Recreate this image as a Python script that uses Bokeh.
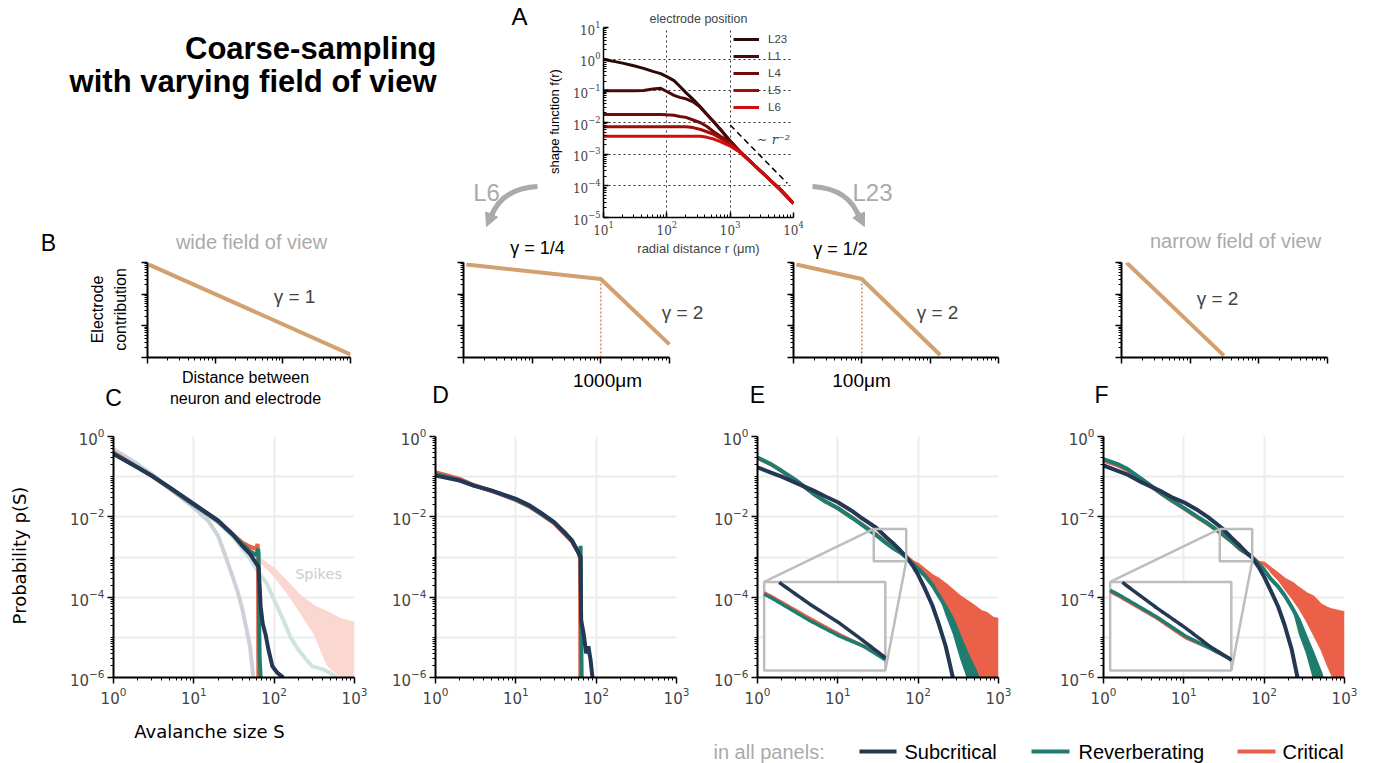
import numpy as np
from bokeh.plotting import figure
from bokeh.layouts import column, row
from bokeh.models import Range1d, FixedTicker, Label, Legend, LegendItem, Arrow, NormalHead
from bokeh.embed import file_html
from bokeh.resources import INLINE
from bokeh.core.properties import value

# ---------------- data: panel A (shape function) ----------------
A_r = [10, 13, 16, 20, 30, 43, 60, 80, 100, 130, 160, 200, 260, 340, 430, 550, 700, 1000, 1400, 2300, 3800, 6200, 10000]
A_L23 = [1.0, 0.89, 0.82, 0.75, 0.62, 0.51, 0.41, 0.35, 0.28, 0.21, 0.14, 0.088, 0.054, 0.031, 0.018, 0.0106, 0.0061, 0.0026, 0.00126, 4.9e-4, 1.9e-4, 7.6e-5, 2.8e-5]
A_L1 = [0.1, 0.1, 0.1, 0.1, 0.1, 0.103, 0.115, 0.12, 0.095, 0.072, 0.062, 0.056, 0.045, 0.03, 0.018, 0.0105, 0.006, 0.0026, 0.00126, 4.9e-4, 1.9e-4, 7.6e-5, 2.8e-5]
A_L4 = [0.018, 0.018, 0.018, 0.018, 0.018, 0.018, 0.018, 0.018, 0.0175, 0.017, 0.0155, 0.0145, 0.012, 0.0098, 0.0075, 0.0051, 0.0037, 0.0024, 0.00125, 4.9e-4, 1.9e-4, 7.6e-5, 2.8e-5]
A_L5 = [0.0074, 0.0074, 0.0074, 0.0074, 0.0074, 0.0074, 0.0074, 0.0074, 0.0074, 0.0074, 0.0074, 0.0074, 0.0069, 0.006, 0.0051, 0.0042, 0.0032, 0.0021, 0.00122, 4.85e-4, 1.9e-4, 7.6e-5, 2.8e-5]
A_L6 = [0.0037, 0.0037, 0.0037, 0.0037, 0.0037, 0.0037, 0.0037, 0.0037, 0.0037, 0.0037, 0.0037, 0.0037, 0.0037, 0.0037, 0.0034, 0.003, 0.0025, 0.0018, 0.00118, 4.8e-4, 1.9e-4, 7.6e-5, 2.8e-5]
A_layers = ["L23", "L1", "L4", "L5", "L6"]
A_guide_r = [1000, 8000]
A_guide_f = [8.3e-3, 1.2e-4]

# ---------------- data: panel B (electrode contribution sketches) ----------------
B1_x = [1.05, 1000]
B1_y = [0.86, 0.00125]
B2_x = [1.1, 100, 1000]
B2_y = [0.86, 0.3, 0.0026]
B3_x = [1.1, 10, 140]
B3_y = [0.86, 0.3, 0.0012]
B4_x = [1.18, 31]
B4_y = [1.0, 0.00115]

# ---------------- data: panel C ----------------
C_sub_S = [1, 2, 3, 5, 10, 20, 30, 40, 50, 60, 64, 66, 68, 72, 78, 85, 95, 110, 130]
C_sub_p = [0.365, 0.17, 0.106, 0.054, 0.021, 0.0081, 0.0038, 0.0019, 1.2e-3, 6.8e-4, 5.6e-4, 1.8e-4, 5.7e-5, 2.2e-5, 1.2e-5, 4.9e-6, 1.9e-6, 1.3e-6, 1e-6]
C_rev_S = [1, 2, 3, 5, 10, 20, 30, 40, 50, 60, 63, 64, 65, 66, 68]
C_rev_p = [0.38, 0.17, 0.105, 0.053, 0.02, 0.0078, 0.0037, 0.0021, 1.4e-3, 1.1e-3, 1.6e-3, 1.2e-3, 2.7e-5, 3e-6, 1e-6]
C_crit_S = [1, 2, 3, 5, 10, 20, 30, 40, 50, 60, 62, 63, 63.5]
C_crit_p = [0.4, 0.17, 0.104, 0.052, 0.02, 0.0078, 0.0038, 0.0023, 1.8e-3, 1.6e-3, 2.1e-3, 1.5e-3, 1e-6]
C_subspk_S = [1, 2, 3, 5, 10, 15, 20, 25, 30, 35, 40, 45, 50, 55]
C_subspk_p = [0.485, 0.206, 0.116, 0.05, 0.017, 8.1e-3, 3.4e-3, 1.0e-3, 3.5e-4, 1.4e-4, 5.2e-5, 1.7e-5, 5.9e-6, 1e-6]
C_revspk_S = [1, 2, 3, 5, 10, 20, 30, 40, 50, 60, 80, 100, 130, 160, 200, 250, 300, 400, 500, 600]
C_revspk_p = [0.42, 0.18, 0.105, 0.052, 0.019, 7.2e-3, 3.3e-3, 1.6e-3, 9e-4, 5.0e-4, 2.3e-4, 8.5e-5, 2.7e-5, 1.0e-5, 4.9e-6, 2.8e-6, 1.9e-6, 1.6e-6, 1.3e-6, 1e-6]
C_critspk_S = [1, 2, 3, 5, 10, 20, 30, 40, 50, 60, 67, 80, 100, 145, 210, 310, 450, 660, 1000]
C_critspk_p = [0.42, 0.18, 0.105, 0.052, 0.019, 7.5e-3, 3.5e-3, 2.0e-3, 1.5e-3, 1.2e-3, 8.3e-4, 6.5e-4, 4.7e-4, 2.2e-4, 1.0e-4, 5.7e-5, 4.0e-5, 2.7e-5, 2.2e-5]
C_critspk_lo = [0.42, 0.18, 0.105, 0.052, 0.019, 7.5e-3, 3.5e-3, 2.0e-3, 1.5e-3, 1.2e-3, 7e-4, 5e-4, 3.2e-4, 1.2e-4, 4e-5, 1.2e-5, 2e-6, 1e-6, 1e-6]

# ---------------- data: panel D ----------------
D_sub_S = [1, 2, 3, 5, 10, 15, 20, 30, 40, 50, 60, 64, 65, 70, 75, 80, 85, 90]
D_sub_p = [0.106, 0.08, 0.06, 0.045, 0.028, 0.019, 0.013, 7.4e-3, 4.2e-3, 2.6e-3, 1.3e-3, 1e-3, 2.7e-5, 1.2e-5, 4e-6, 6e-6, 2.8e-6, 1e-6]
D_rev_S = [1, 2, 3, 5, 10, 15, 20, 30, 40, 50, 60, 63, 64, 65, 66]
D_rev_p = [0.115, 0.082, 0.06, 0.045, 0.027, 0.018, 0.0125, 7.2e-3, 4.0e-3, 2.5e-3, 1.3e-3, 1.1e-3, 1.9e-3, 2e-5, 1e-6]
D_crit_S = [1, 2, 3, 5, 10, 15, 20, 30, 40, 50, 60, 63, 63.5]
D_crit_p = [0.13, 0.088, 0.062, 0.044, 0.026, 0.0175, 0.012, 6.9e-3, 3.8e-3, 2.4e-3, 1.3e-3, 9e-4, 1e-6]

# ---------------- data: panel E ----------------
E_sub_S = [1, 1.5, 2, 3, 5, 7, 10, 15, 20, 30, 40, 50, 60, 70, 85, 100, 120, 150, 180, 220, 250, 270]
E_sub_p = [0.17, 0.125, 0.1, 0.07, 0.045, 0.032, 0.023, 0.014, 0.0092, 0.0054, 3.1e-3, 2.1e-3, 1.45e-3, 1.05e-3, 6.2e-4, 3.6e-4, 1.7e-4, 6.3e-5, 2.2e-5, 6e-6, 2e-6, 1e-6]
E_rev_S = [1, 1.5, 2, 3, 5, 7, 10, 15, 20, 30, 40, 50, 60, 70, 85, 100, 120, 150, 180, 220, 270, 330, 400, 500, 550]
E_rev_p = [0.3, 0.2, 0.14, 0.082, 0.037, 0.024, 0.0166, 0.0095, 0.0063, 3.5e-3, 2.2e-3, 1.6e-3, 1.3e-3, 1.0e-3, 6.8e-4, 5.1e-4, 3.5e-4, 2.0e-4, 1.1e-4, 5.7e-5, 2.7e-5, 1.0e-5, 4e-6, 1.6e-6, 1e-6]
E_rev_lo = [0.3, 0.2, 0.14, 0.082, 0.037, 0.024, 0.0166, 0.0095, 0.0063, 3.5e-3, 2.2e-3, 1.6e-3, 1.3e-3, 1.0e-3, 6.8e-4, 5.1e-4, 3.5e-4, 2.0e-4, 1.1e-4, 3.5e-5, 1.2e-5, 3e-6, 1e-6, 1e-6, 1e-6]
E_crit_S = [1, 1.5, 2, 3, 5, 7, 10, 15, 20, 30, 40, 50, 60, 70, 85, 100, 120, 150, 180, 220, 270, 330, 400, 500, 600, 700, 850, 1000]
E_crit_p = [0.29, 0.2, 0.137, 0.08, 0.038, 0.024, 0.0162, 0.0096, 0.0065, 3.6e-3, 2.3e-3, 1.65e-3, 1.3e-3, 1.05e-3, 7.5e-4, 6.3e-4, 4.7e-4, 3.3e-4, 2.7e-4, 2.0e-4, 1.4e-4, 1.0e-4, 7.7e-5, 5.7e-5, 4.3e-5, 3.9e-5, 2.9e-5, 2.7e-5]
E_crit_lo = [0.29, 0.2, 0.137, 0.08, 0.038, 0.024, 0.0162, 0.0096, 0.0065, 3.6e-3, 2.3e-3, 1.65e-3, 1.3e-3, 1.05e-3, 7.5e-4, 5e-4, 3.3e-4, 2.0e-4, 1.2e-4, 6e-5, 2.5e-5, 1e-5, 2.5e-6, 1e-6, 1e-6, 1e-6, 1e-6, 1e-6]

# ---------------- data: panel F ----------------
F_sub_S = [1, 1.5, 2, 3, 5, 7, 10, 15, 20, 30, 40, 50, 60, 70, 85, 100, 120, 150, 180, 220, 260]
F_sub_p = [0.19, 0.14, 0.112, 0.072, 0.045, 0.031, 0.023, 0.0145, 0.0098, 0.0052, 2.9e-3, 1.9e-3, 1.3e-3, 1.0e-3, 5.7e-4, 3.2e-4, 1.5e-4, 5.7e-5, 2.0e-5, 5e-6, 1e-6]
F_rev_S = [1, 1.5, 2, 3, 5, 7, 10, 15, 20, 30, 40, 50, 60, 70, 85, 100, 120, 150, 180, 220, 270, 330, 400, 500, 520]
F_rev_p = [0.275, 0.206, 0.155, 0.087, 0.041, 0.026, 0.0167, 0.0098, 6.8e-3, 3.8e-3, 2.4e-3, 1.6e-3, 1.25e-3, 1.0e-3, 6.8e-4, 4.8e-4, 2.9e-4, 1.8e-4, 1.1e-4, 5.7e-5, 2.7e-5, 1.0e-5, 4e-6, 1.3e-6, 1e-6]
F_rev_lo = [0.275, 0.206, 0.155, 0.087, 0.041, 0.026, 0.0167, 0.0098, 6.8e-3, 3.8e-3, 2.4e-3, 1.6e-3, 1.25e-3, 1.0e-3, 6.8e-4, 4.8e-4, 2.9e-4, 1.8e-4, 1.1e-4, 5.7e-5, 1.2e-5, 4e-6, 1e-6, 1e-6, 1e-6]
F_crit_S = [1, 1.5, 2, 3, 5, 7, 10, 15, 20, 30, 40, 50, 60, 70, 85, 100, 120, 150, 180, 220, 270, 330, 400, 500, 600, 700, 850, 1000]
F_crit_p = [0.25, 0.19, 0.145, 0.084, 0.04, 0.0255, 0.0162, 0.0095, 6.6e-3, 3.7e-3, 2.35e-3, 1.55e-3, 1.25e-3, 1.0e-3, 7.2e-4, 6.8e-4, 5.1e-4, 3.6e-4, 2.7e-4, 2.2e-4, 1.6e-4, 1.2e-4, 1.0e-4, 6.3e-5, 5.2e-5, 4.7e-5, 4.3e-5, 4e-5]
F_crit_lo = [0.25, 0.19, 0.145, 0.084, 0.04, 0.0255, 0.0162, 0.0095, 6.6e-3, 3.7e-3, 2.35e-3, 1.55e-3, 1.25e-3, 1.0e-3, 7.2e-4, 6.8e-4, 4e-4, 2.5e-4, 1.5e-4, 9e-5, 5e-5, 2.5e-5, 1.2e-5, 5e-6, 2e-6, 1e-6, 1e-6, 1e-6]

LEGEND_NAMES = ["Subcritical", "Reverberating", "Critical"]

# ---------------- styling ----------------
SANS = "Liberation Sans"
MPL = "DejaVu Sans"
SERIF = "DejaVu Serif"
NAVY, TEAL, RED = "#243854", "#1e7d6e", "#ea6048"
NAVY_L, TEAL_L, RED_L = "#cdd1da", "#cfe3df", "#fad7d0"
TAN = "#d3a070"
TAN_DOT = "#e08a4c"
GRAYTXT = "#aaaaaa"
INSET_GRAY = "#bdbdbd"
A_COLORS = ["#2b0909", "#4a0808", "#720a0a", "#a00b0b", "#d10d0d"]

ZOOM_S = (28.0, 71.0)
ZOOM_P = (7.8e-4, 5.0e-3)
INSET_S = (1.21, 39.0)
INSET_P = (1.5e-6, 2.4e-4)


def dec(a, b):
    return [10.0 ** k for k in range(a, b + 1)]


def mnr(a, b):
    return [m * 10.0 ** k for k in range(a, b) for m in range(2, 10)]


def canvas(x0, y0, w, h):
    p = figure(width=w, height=h, x_range=Range1d(x0, x0 + w), y_range=Range1d(-(y0 + h), -y0),
               x_axis_location=None, y_axis_location=None, toolbar_location=None,
               output_backend="svg", min_border=0, frame_align=False)
    p.outline_line_color = None
    p.grid.visible = False
    return p


def ctext(p, x, y, t, size, color="black", font=SANS, align="center", style="normal",
          angle=0.0, baseline="middle"):
    p.text(x=[x], y=[-y], text=[t], text_font=value(font), text_font_size=f"{size}px",
           text_color=color, text_align=align, text_baseline=baseline,
           text_font_style=style, angle=angle)


def logfig(w, h, xr, yr, bl, br, bt, bb):
    p = figure(width=w, height=h, x_axis_type="log", y_axis_type="log",
               x_range=Range1d(*xr), y_range=Range1d(*yr), toolbar_location=None,
               output_backend="svg", min_border_left=bl, min_border_right=br,
               min_border_top=bt, min_border_bottom=bb, frame_align=False)
    p.outline_line_color = None
    return p


def style_axes(p, xt, xm, yt, ym, tick_in=False, labels=True, font=MPL, size=15, lw=2.0):
    for ax, t, m in ((p.xaxis[0], xt, xm), (p.yaxis[0], yt, ym)):
        ax.ticker = FixedTicker(ticks=t, minor_ticks=m)
        ax.axis_line_width = lw
        ax.axis_line_color = "black"
        ax.major_tick_line_width = 1.5
        ax.minor_tick_line_width = 1
        ax.major_tick_line_color = "black"
        ax.minor_tick_line_color = "black"
        if tick_in:
            ax.major_tick_in, ax.major_tick_out = 5, 0
            ax.minor_tick_in, ax.minor_tick_out = 3, 0
        else:
            ax.major_tick_in, ax.major_tick_out = 0, 6
            ax.minor_tick_in, ax.minor_tick_out = 0, 3
        ax.major_label_text_font = font
        ax.major_label_text_font_size = f"{size}px"
        ax.major_label_standoff = 3
        if not labels:
            ax.major_label_text_color = None
            ax.major_label_text_font_size = "0px"


def frame_label(p, x, y, t, size=19):
    p.add_layout(Label(x=x, y=y, x_units="screen", y_units="screen", text=t, text_font=SANS,
                       text_font_size=f"{size}px", text_align="center", text_baseline="middle"))


# ================= row 1 (y 0..260) =================
pT = canvas(0, 0, 567, 260)
ctext(pT, 436, 48, "Coarse-sampling", 31, style="bold", align="right", baseline="alphabetic")
ctext(pT, 436, 81, "with varying field of view", 31, style="bold", align="right", baseline="alphabetic")
ctext(pT, 519, 16, "A", 24)
ctext(pT, 48, 242, "B", 23)
ctext(pT, 251, 241, "wide field of view", 20, GRAYTXT)
ctext(pT, 537, 247, "γ = 1/4", 18)
ctext(pT, 554, 121, "shape function f(r)", 13, angle=np.pi / 2)
ctext(pT, 486, 192, "L6", 24, GRAYTXT)
pT.quadratic(x0=[537], y0=[-186], x1=[490], y1=[-218], cx=[500], cy=[-188],
             line_color=GRAYTXT, line_width=5)
pT.add_layout(Arrow(end=NormalHead(size=13, fill_color=GRAYTXT, line_color=GRAYTXT),
                    x_start=492, y_start=-212, x_end=486, y_end=-226,
                    line_color=GRAYTXT, line_width=5))

pA = logfig(238, 260, (10, 1e4), (1e-5, 10), 36, 12, 27, 43)
style_axes(pA, dec(1, 4), mnr(1, 4), dec(-5, 1), mnr(-5, 1), tick_in=True, font=SERIF, size=12, lw=1.5)
for g in (pA.xgrid[0], pA.ygrid[0]):
    g.grid_line_color = "#333333"
    g.grid_line_dash = "2 3"
    g.grid_line_width = 1
pA.xgrid[0].ticker = FixedTicker(ticks=dec(1, 4))
pA.ygrid[0].ticker = FixedTicker(ticks=dec(-5, 1))
items = []
for name, col, ys in zip(A_layers, A_COLORS, [A_L23, A_L1, A_L4, A_L5, A_L6]):
    r = pA.line(A_r, ys, line_color=col, line_width=3)
    items.append(LegendItem(label=name, renderers=[r]))
pA.line(A_guide_r, A_guide_f, line_color="black", line_width=1.5, line_dash="6 4")
leg = Legend(items=items, location="top_right", background_fill_alpha=0.0, border_line_alpha=0.0,
             label_text_font=SANS, label_text_font_size="11.5px", glyph_width=26, glyph_height=14,
             label_height=14, spacing=3, padding=3, margin=2, label_standoff=9)
pA.add_layout(leg)
pA.add_layout(Label(x=2630, y=2.9e-3, text="∼ r⁻²", text_font=SERIF, text_font_size="13px",
                    text_font_style="italic", text_baseline="middle", text_align="left"))
pA.title.text = "electrode position"
pA.title.align = "center"
pA.title.text_font = SANS
pA.title.text_font_size = "12.5px"
pA.title.text_font_style = "normal"
pA.title.standoff = 4
pA.xaxis[0].axis_label = "radial distance r (μm)"
pA.xaxis[0].axis_label_text_font = SANS
pA.xaxis[0].axis_label_text_font_size = "13px"
pA.xaxis[0].axis_label_text_font_style = "normal"
pA.xaxis[0].axis_label_standoff = 3

pR = canvas(805, 0, 573, 260)
ctext(pR, 872, 192, "L23", 24, GRAYTXT)
pR.quadratic(x0=[812], y0=[-186], x1=[859], y1=[-218], cx=[849], cy=[-188],
             line_color=GRAYTXT, line_width=5)
pR.add_layout(Arrow(end=NormalHead(size=13, fill_color=GRAYTXT, line_color=GRAYTXT),
                    x_start=857, y_start=-212, x_end=864, y_end=-226,
                    line_color=GRAYTXT, line_width=5))
ctext(pR, 840, 248, "γ = 1/2", 18)
ctext(pR, 1235, 240, "narrow field of view", 20, GRAYTXT)


# ================= row 2 (y 260..365) =================
def bpanel(w, bl, br, xmax=1000):
    p = logfig(w, 105, (1, xmax), (1e-3, 1), bl, br, 2, 8)
    style_axes(p, dec(0, 3), mnr(0, 3), dec(-3, 0), mnr(-3, 0), labels=False, lw=2.0)
    p.xaxis[0].bounds = (1, 1000)
    p.grid.visible = False
    return p


pBL = canvas(0, 260, 135, 105)
ctext(pBL, 97, 309, "Electrode", 16, angle=np.pi / 2)
ctext(pBL, 120, 309, "contribution", 16, angle=np.pi / 2)

pB1 = bpanel(245, 12, 30)
pB1.line(B1_x, B1_y, line_color=TAN, line_width=4)
frame_label(pB1, 147, 61, "γ = 1")

# frame of B2 extends past the axis end (axis bounded to 1..1000) so its label fits
pB2 = bpanel(340, 83, 0, xmax=5540)
pB2.segment(x0=[B2_x[1]], y0=[1e-3], x1=[B2_x[1]], y1=[B2_y[1]], line_color=TAN_DOT,
            line_width=1.5, line_dash="2 2")
pB2.line(B2_x, B2_y, line_color=TAN, line_width=4)
frame_label(pB2, 219, 45, "γ = 2")

pB3 = bpanel(340, 73, 62)
pB3.segment(x0=[B3_x[1]], y0=[1e-3], x1=[B3_x[1]], y1=[B3_y[1]], line_color=TAN_DOT,
            line_width=1.5, line_dash="2 2")
pB3.line(B3_x, B3_y, line_color=TAN, line_width=4)
frame_label(pB3, 144, 45, "γ = 2")

pB4 = bpanel(318, 61, 51)
pB4.line(B4_x, B4_y, line_color=TAN, line_width=4)
frame_label(pB4, 96, 59, "γ = 2")

# ================= row 2b (y 365..412): labels under sketches =================
pBT = canvas(0, 365, 1378, 47)
ctext(pBT, 245, 377, "Distance between", 16)
ctext(pBT, 245, 398, "neuron and electrode", 16)
ctext(pBT, 113, 397, "C", 23)
ctext(pBT, 607, 380, "1000μm", 19)
ctext(pBT, 440, 394, "D", 23)
ctext(pBT, 861, 380, "100μm", 19)
ctext(pBT, 757, 394, "E", 23)
ctext(pBT, 1101, 394, "F", 23)


# ================= row 3 (y 412..718) =================
def bottom_panel(w, bl, br):
    p = logfig(w, 306, (1, 1000), (1e-6, 1), bl, br, 24, 41)
    style_axes(p, dec(0, 3), mnr(0, 3), [1e-6, 1e-4, 1e-2, 1.0], mnr(-6, 0) + [1e-5, 1e-3, 1e-1])
    p.xgrid[0].ticker = FixedTicker(ticks=dec(0, 3))
    p.ygrid[0].ticker = FixedTicker(ticks=dec(-6, 0))
    for g in (p.xgrid[0], p.ygrid[0]):
        g.grid_line_color = "#ececec"
        g.grid_line_width = 2
    return p


def to_inset(S, P):
    lx = np.log10(np.asarray(S, float))
    ly = np.log10(np.asarray(P, float))
    a0, a1 = np.log10(ZOOM_S)
    b0, b1 = np.log10(ZOOM_P)
    c0, c1 = np.log10(INSET_S)
    d0, d1 = np.log10(INSET_P)
    xs = np.linspace(a0, a1, 90)
    ys = np.interp(xs, lx, ly)
    X = c0 + (xs - a0) * (c1 - c0) / (a1 - a0)
    Y = d0 + (ys - b0) * (d1 - d0) / (b1 - b0)
    Y = np.where((Y >= d0 - 1e-9) & (Y <= d1 + 1e-9), Y, np.nan)
    return 10 ** X, 10 ** Y


def draw_inset(p, series):
    p.quad(left=[INSET_S[0]], right=[INSET_S[1]], bottom=[INSET_P[0]], top=[INSET_P[1]],
           fill_color="white", line_color=INSET_GRAY, line_width=2.5)
    for S, P, col in series:
        x, y = to_inset(S, P)
        p.line(x, y, line_color=col, line_width=3.5)
    p.quad(left=[ZOOM_S[0]], right=[ZOOM_S[1]], bottom=[ZOOM_P[0]], top=[ZOOM_P[1]],
           fill_color=None, line_color=INSET_GRAY, line_width=2.5)
    p.segment(x0=[ZOOM_S[0], ZOOM_S[1]], y0=[ZOOM_P[1], ZOOM_P[0]],
              x1=[INSET_S[0], INSET_S[1]], y1=[INSET_P[1], INSET_P[0]],
              line_color=INSET_GRAY, line_width=2.5)


pCL = canvas(0, 412, 40, 306)
ctext(pCL, 19, 555, "Probability p(S)", 18, font=MPL, angle=np.pi / 2)

pC = bottom_panel(335, 73, 21)
pC.varea(x=C_critspk_S, y1=C_critspk_lo, y2=C_critspk_p, fill_color=RED_L)
pC.line(C_critspk_S, C_critspk_p, line_color=RED_L, line_width=4)
pC.line(C_revspk_S, C_revspk_p, line_color=TEAL_L, line_width=4)
pC.line(C_subspk_S, C_subspk_p, line_color=NAVY_L, line_width=4)
pC.line(C_crit_S, C_crit_p, line_color=RED, line_width=4)
pC.line(C_rev_S, C_rev_p, line_color=TEAL, line_width=4)
pC.line(C_sub_S, C_sub_p, line_color=NAVY, line_width=4)
pC.add_layout(Label(x=357, y=3.67e-4, text="Spikes", text_font=MPL, text_font_size="14.5px",
                    text_color="#cccccc", text_align="center", text_baseline="middle"))

pD = bottom_panel(325, 60, 24)
pD.line(D_crit_S, D_crit_p, line_color=RED, line_width=4)
pD.line(D_rev_S, D_rev_p, line_color=TEAL, line_width=4)
pD.line(D_sub_S, D_sub_p, line_color=NAVY, line_width=4)

pE = bottom_panel(342, 57, 44)
pE.varea(x=E_crit_S, y1=E_crit_lo, y2=E_crit_p, fill_color=RED)
pE.line(E_crit_S, E_crit_p, line_color=RED, line_width=4)
pE.varea(x=E_rev_S, y1=E_rev_lo, y2=E_rev_p, fill_color=TEAL)
pE.line(E_rev_S, E_rev_p, line_color=TEAL, line_width=4)
pE.line(E_sub_S, E_sub_p, line_color=NAVY, line_width=4)
draw_inset(pE, [(E_crit_S, E_crit_p, RED), (E_rev_S, E_rev_p, TEAL), (E_sub_S, E_sub_p, NAVY)])

pF = bottom_panel(336, 61, 34)
pF.varea(x=F_crit_S, y1=F_crit_lo, y2=F_crit_p, fill_color=RED)
pF.line(F_crit_S, F_crit_p, line_color=RED, line_width=4)
pF.varea(x=F_rev_S, y1=F_rev_lo, y2=F_rev_p, fill_color=TEAL)
pF.line(F_rev_S, F_rev_p, line_color=TEAL, line_width=4)
pF.line(F_sub_S, F_sub_p, line_color=NAVY, line_width=4)
draw_inset(pF, [(F_crit_S, F_crit_p, RED), (F_rev_S, F_rev_p, TEAL), (F_sub_S, F_sub_p, NAVY)])

# ================= row 4 (y 718..763): x label + legend =================
pL = canvas(0, 718, 1378, 45)
ctext(pL, 209, 731, "Avalanche size S", 18, font=MPL)
ctext(pL, 713, 751, "in all panels:", 20, GRAYTXT, align="left")
pL.segment(x0=[859, 1031, 1237], y0=[-751, -751, -751], x1=[896, 1069, 1275], y1=[-751, -751, -751],
           line_color=[NAVY, TEAL, RED], line_width=4)
for xl, nm in zip([904, 1078, 1282], LEGEND_NAMES):
    ctext(pL, xl, 751, nm, 20, align="left")

layout = column(row(pT, pA, pR),
                row(pBL, pB1, pB2, pB3, pB4),
                pBT,
                row(pCL, pC, pD, pE, pF),
                pL)
open("out.html", "w").write(file_html(layout, INLINE))
